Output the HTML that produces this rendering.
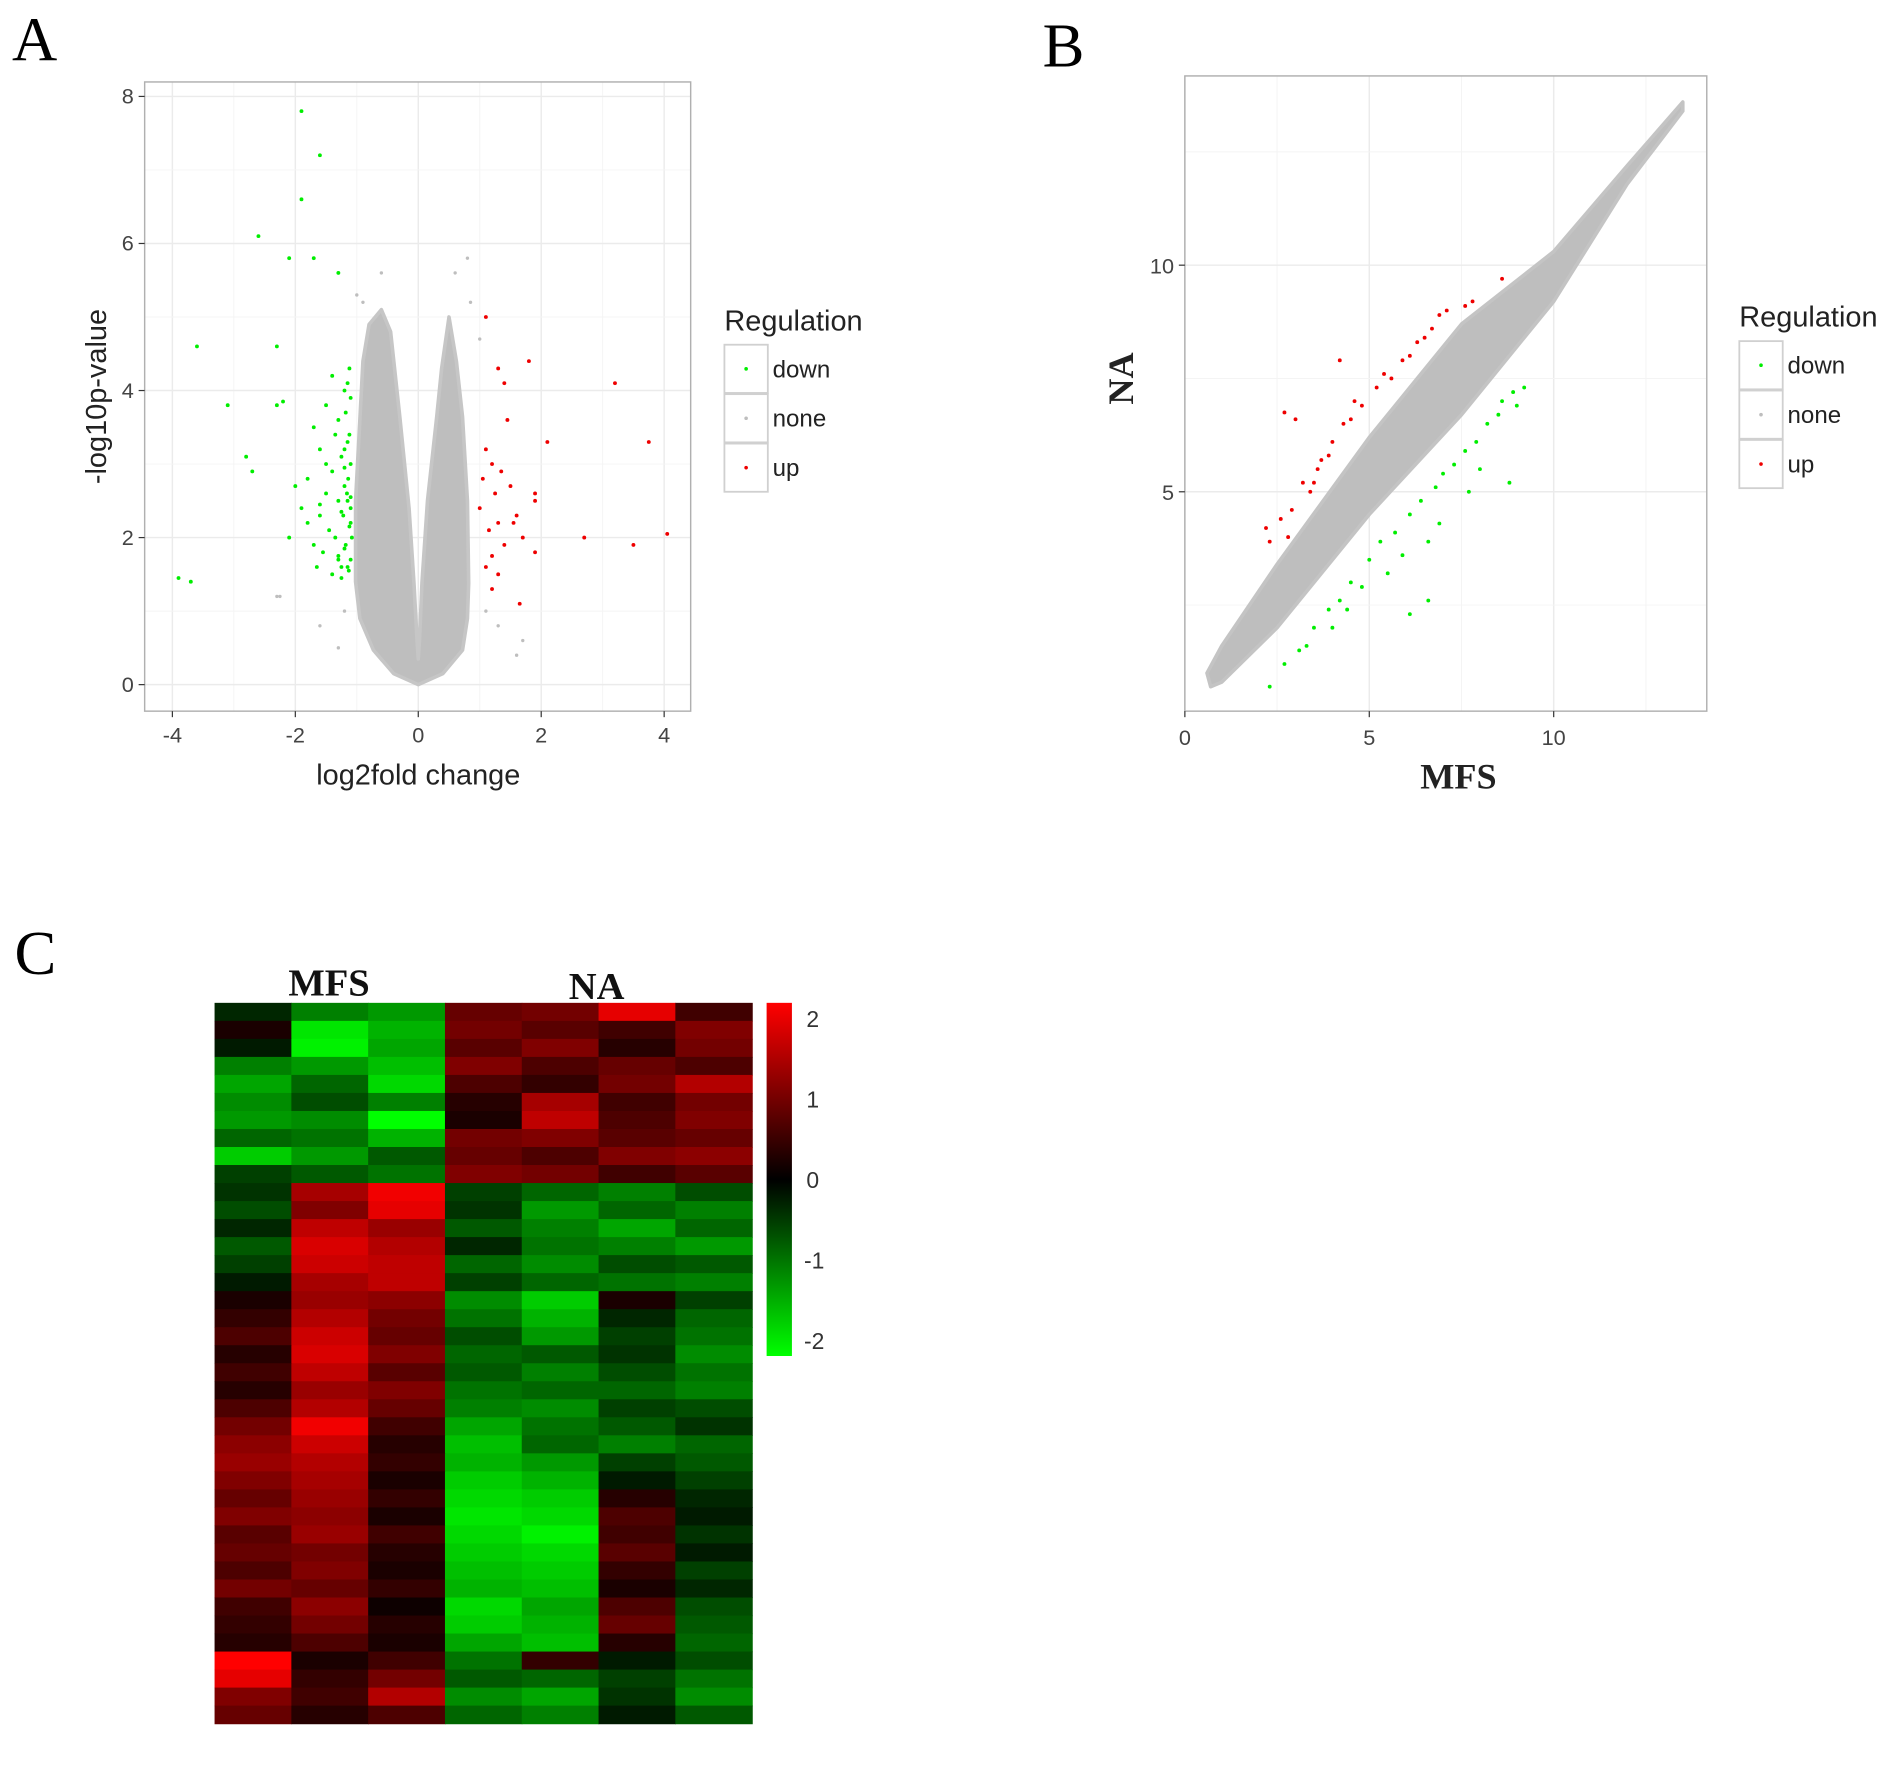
<!DOCTYPE html>
<html><head><meta charset="utf-8">
<style>
html,body{margin:0;padding:0;background:#fff;}
svg{display:block;}
text{font-family:"Liberation Sans",sans-serif;}
.serif{font-family:"Liberation Serif",serif;}
</style></head>
<body>
<svg id="fig" width="1890" height="1788" viewBox="0 0 1568 1483.4" xmlns="http://www.w3.org/2000/svg">
<rect width="1568" height="1483.4" fill="#fff"/>
<text class="serif" x="10" y="50" font-size="52">A</text>
<text class="serif" x="865" y="55" font-size="52">B</text>
<text class="serif" x="12" y="808" font-size="52">C</text>
<g id="pa"></g>
<g id="pb"></g>
<g id="pc"></g>
</svg>
<script>
// ---------- Panel A data ----------
const volcXTicks = [-4,-2,0,2,4];
const volcYTicks = [0,2,4,6,8];
const volcDownX = [-1.9,-1.6,-1.9,-2.6,-2.1,-1.7,-1.3,-3.6,-2.3,-3.1,-2.3,-2.2,-2.8,-2.7,-3.9,-3.7,-1.4,-1.2,-1.5,-1.3,-1.7,-1.15,-1.6,-1.25,-1.4,-1.8,-1.2,-1.5,-1.3,-1.9,-1.25,-1.6,-1.1,-1.45,-1.35,-2.1,-1.7,-1.2,-1.55,-1.3,-1.15,-1.65,-1.4,-1.25,-1.8,-1.1,-1.5,-1.2,-1.35,-2.0,-1.6,-1.3,-1.12,-1.15,-1.1,-1.18,-1.12,-1.2,-1.1,-1.14,-1.16,-1.1,-1.22,-1.12,-1.08,-1.18,-1.1,-1.25,-1.13,-1.15];
const volcDownY = [7.8,7.2,6.6,6.1,5.8,5.8,5.6,4.6,4.6,3.8,3.8,3.85,3.1,2.9,1.45,1.4,4.2,4.0,3.8,3.6,3.5,3.3,3.2,3.1,2.9,2.8,2.7,2.6,2.5,2.4,2.35,2.3,2.2,2.1,2.0,2.0,1.9,1.85,1.8,1.7,1.6,1.6,1.5,1.45,2.2,2.55,3.0,2.95,3.4,2.7,2.45,1.75,4.3,4.1,3.9,3.7,3.4,3.2,3.0,2.8,2.6,2.4,2.3,2.15,2.0,1.9,1.7,1.6,1.55,2.5];
const volcUpX = [1.1,1.8,1.4,3.2,1.3,2.1,3.75,1.2,1.5,1.9,1.3,2.7,4.05,3.5,1.9,1.7,1.1,1.2,1.05,1.25,1.6,1.15,1.35,1.45,1.1,1.3,1.9,1.55,1.2,1.0,1.4,1.65];
const volcUpY = [5.0,4.4,4.1,4.1,4.3,3.3,3.3,3.0,2.7,2.5,2.2,2.0,2.05,1.9,1.8,2.0,1.6,1.3,2.8,2.6,2.3,2.1,2.9,3.6,3.2,1.5,2.6,2.2,1.75,2.4,1.9,1.1];
const volcCloudX = [0,-0.4,-0.73,-0.95,-1.02,-1.02,-0.95,-0.9,-0.8,-0.6,-0.45,-0.3,-0.15,-0.07,-0.02,0,0.02,0.06,0.15,0.3,0.38,0.5,0.62,0.72,0.8,0.82,0.8,0.72,0.4,0];
const volcCloudY = [0,0.15,0.47,0.9,1.4,2.5,3.6,4.4,4.9,5.1,4.8,3.64,2.4,1.38,0.6,0.35,0.6,1.38,2.5,3.64,4.3,5.0,4.4,3.64,2.5,1.38,0.9,0.47,0.15,0];
const volcGrayX = [-2.3,-2.25,-1.0,1.6,0.8,1.7,-0.9,1.0,0.85,-1.6,-1.2,-1.3,1.1,1.3,-0.6,0.6];
const volcGrayY = [1.2,1.2,5.3,0.4,5.8,0.6,5.2,4.7,5.2,0.8,1.0,0.5,1.0,0.8,5.6,5.6];

// ---------- Panel B data ----------
const scatXTicks = [0,5,10];
const scatYTicks = [5,10];
const scatBandX = [0.6,1,2.5,5,7.5,10,12,13.5,13.5,12,10,7.5,5,2.5,1,0.7];
const scatBandY = [1.0,1.6,3.4,6.2,8.7,10.3,12.2,13.6,13.4,11.8,9.2,6.7,4.5,2.0,0.8,0.7];
const scatUpX = [4.2,2.7,3.0,3.5,3.6,3.4,2.2,2.3,2.6,2.8,4.0,4.3,4.5,4.8,5.2,5.6,5.9,6.3,6.7,6.9,7.1,7.6,7.8,8.6,3.9,3.2,4.6,5.4,6.1,6.5,2.9,3.7];
const scatUpY = [7.9,6.75,6.6,5.2,5.5,5.0,4.2,3.9,4.4,4.0,6.1,6.5,6.6,6.9,7.3,7.5,7.9,8.3,8.6,8.9,9.0,9.1,9.2,9.7,5.8,5.2,7.0,7.6,8.0,8.4,4.6,5.7];
const scatDownX = [2.3,2.7,3.1,3.5,3.9,4.2,4.5,5.0,5.3,5.7,6.1,6.4,6.8,7.0,7.3,7.6,7.9,8.2,8.5,8.6,8.9,9.0,9.2,8.8,6.6,6.1,6.6,5.5,4.8,4.0,3.3,7.7,8.0,6.9,5.9,4.4];
const scatDownY = [0.7,1.2,1.5,2.0,2.4,2.6,3.0,3.5,3.9,4.1,4.5,4.8,5.1,5.4,5.6,5.9,6.1,6.5,6.7,7.0,7.2,6.9,7.3,5.2,2.6,2.3,3.9,3.2,2.9,2.0,1.6,5.0,5.5,4.3,3.6,2.4];

// ---------- Panel C data ----------
const heatCols = ["MFS1","MFS2","MFS3","NA1","NA2","NA3","NA4"];
const heatColorTicks = [2,1,0,-1,-2];
const heatValues = [
[-0.3,-1.0,-1.2,0.8,0.9,1.8,0.5],[0.2,-1.8,-1.4,0.9,0.7,0.5,1.0],[-0.2,-1.9,-1.3,0.7,1.0,0.3,0.9],
[-1.0,-1.2,-1.5,1.0,0.6,0.8,0.6],[-1.3,-0.8,-1.7,0.6,0.4,0.9,1.4],[-1.1,-0.6,-1.0,0.3,1.3,0.5,0.9],
[-1.2,-1.1,-2.0,0.2,1.5,0.6,1.0],[-0.8,-0.9,-1.4,0.9,1.0,0.7,0.8],[-1.6,-1.2,-0.7,0.8,0.6,1.0,1.1],
[-0.5,-0.7,-0.9,1.0,0.9,0.5,0.7],[-0.4,1.3,1.9,-0.5,-0.8,-1.0,-0.6],[-0.6,1.0,1.8,-0.4,-1.2,-0.8,-1.0],
[-0.3,1.5,1.2,-0.7,-1.0,-1.3,-0.8],[-0.7,1.7,1.4,-0.3,-0.9,-1.0,-1.2],[-0.5,1.6,1.5,-0.8,-1.1,-0.6,-0.7],
[-0.2,1.3,1.5,-0.5,-0.8,-0.9,-1.0],[0.2,1.2,1.1,-1.1,-1.6,0.2,-0.5],[0.4,1.4,0.9,-0.9,-1.4,-0.3,-0.8],
[0.6,1.6,0.8,-0.6,-1.2,-0.5,-0.9],[0.3,1.7,1.0,-0.8,-0.7,-0.4,-1.1],[0.5,1.5,0.7,-0.7,-1.0,-0.6,-0.9],
[0.3,1.2,1.0,-0.9,-0.8,-0.8,-1.0],[0.6,1.4,0.8,-1.0,-1.1,-0.5,-0.6],[0.9,1.9,0.5,-1.3,-0.9,-0.7,-0.4],
[1.1,1.6,0.3,-1.5,-0.8,-1.0,-0.8],[1.2,1.4,0.4,-1.4,-1.2,-0.5,-0.7],[1.0,1.3,0.2,-1.6,-1.4,-0.2,-0.5],
[0.8,1.2,0.4,-1.7,-1.6,0.3,-0.3],[1.0,1.1,0.2,-1.8,-1.7,0.6,-0.2],[0.7,1.2,0.5,-1.7,-1.9,0.5,-0.4],
[0.8,0.9,0.3,-1.6,-1.7,0.7,-0.2],[0.6,1.0,0.2,-1.5,-1.6,0.4,-0.5],[0.9,0.8,0.4,-1.4,-1.5,0.2,-0.3],
[0.5,1.1,0.1,-1.7,-1.3,0.6,-0.6],[0.4,0.9,0.3,-1.6,-1.4,0.8,-0.7],[0.3,0.6,0.2,-1.3,-1.5,0.3,-0.8],
[2.0,0.2,0.5,-0.9,0.4,-0.2,-0.6],[1.8,0.4,0.9,-0.7,-0.8,-0.5,-0.9],[1.0,0.5,1.4,-1.1,-1.3,-0.4,-1.1],
[0.8,0.3,0.6,-0.8,-1.0,-0.2,-0.7]
];

const NS="http://www.w3.org/2000/svg";
function mk(parent,tag,attrs,txt){const e=document.createElementNS(NS,tag);for(const k in attrs)e.setAttribute(k,attrs[k]);if(txt!==undefined)e.textContent=txt;parent.appendChild(e);return e;}
function lin(d0,d1,r0,r1){return v=>r0+(v-d0)*(r1-r0)/(d1-d0);}

function legend(g,x,y){
  const t=mk(g,'text',{x:x,y:y,'font-size':24,fill:'#222'},'Regulation');
  
  
  const items=[['down','#00ee00'],['none','#bebebe'],['up','#ee0000']];
  items.forEach((it,i)=>{
    const ky=y+12+i*41;
    const r=mk(g,'rect',{x:x,y:ky,width:36,height:40,fill:'#fff',stroke:'#d0d0d0','stroke-width':1.5});
    
    
    mk(g,'circle',{cx:x+18,cy:ky+20,r:1.5,fill:it[1]});
    const lt=mk(g,'text',{x:x+40,y:ky+27,'font-size':20,fill:'#222'},it[0]);
    
    
  });
}

// ---------- Panel A ----------
(function(){
  const g=document.getElementById('pa');
  const L=120,R=573,T=68,B=590;
  const sx=lin(0,4,347,551), sy=lin(0,8,568,80);
  mk(g,'rect',{x:L,y:T,width:R-L,height:B-T,fill:'#fff'});
  for(let v=-4;v<=4;v++){const x=sx(v);mk(g,'line',{x1:x,x2:x,y1:T,y2:B,stroke:v%2?'#f4f4f4':'#ebebeb','stroke-width':v%2?0.8:1.2});}
  for(let v=0;v<=8;v++){const y=sy(v);mk(g,'line',{x1:L,x2:R,y1:y,y2:y,stroke:v%2?'#f4f4f4':'#ebebeb','stroke-width':v%2?0.8:1.2});}
  const cl=mk(g,'polygon',{points:volcCloudX.map((x,i)=>sx(x)+','+sy(volcCloudY[i])).join(' '),fill:'#bebebe',stroke:'#c6c6c6','stroke-width':3,'stroke-linejoin':'round'});
  
  
  volcGrayX.forEach((x,i)=>mk(g,'circle',{cx:sx(x),cy:sy(volcGrayY[i]),r:1.4,fill:'#bebebe'}));
  volcDownX.forEach((x,i)=>{const c=mk(g,'circle',{cx:sx(x),cy:sy(volcDownY[i]),r:1.6,fill:'#00ee00'});
    
    });
  volcUpX.forEach((x,i)=>{const c=mk(g,'circle',{cx:sx(x),cy:sy(volcUpY[i]),r:1.6,fill:'#ee0000'});
    
    });
  mk(g,'rect',{x:L,y:T,width:R-L,height:B-T,fill:'none',stroke:'#b0b0b0','stroke-width':1.2});
  volcXTicks.forEach(v=>{const x=sx(v);mk(g,'line',{x1:x,x2:x,y1:B,y2:B+5,stroke:'#333'});
    const t=mk(g,'text',{x:x,y:B+26,'font-size':18,'text-anchor':'middle',fill:'#444'},String(v));
    
    });
  volcYTicks.forEach(v=>{const y=sy(v);mk(g,'line',{x1:L-5,x2:L,y1:y,y2:y,stroke:'#333'});
    const t=mk(g,'text',{x:L-9,y:y+6,'font-size':18,'text-anchor':'end',fill:'#444'},String(v));
    
    });
  const xt=mk(g,'text',{x:347,y:651,'font-size':24,'text-anchor':'middle',fill:'#222'},'log2fold change');
  
  
  const yt=mk(g,'text',{x:0,y:0,'font-size':24,'text-anchor':'middle',fill:'#222',transform:'translate(88,329) rotate(-90)'},'-log10p-value');
  
  
  legend(g,601,274);
})();

// ---------- Panel B ----------
(function(){
  const g=document.getElementById('pb');
  const L=983,R=1416,T=63,B=590;
  const sx=lin(0,10,983,1289), sy=lin(5,10,408,220);
  mk(g,'rect',{x:L,y:T,width:R-L,height:B-T,fill:'#fff'});
  for(let v=0;v<=12.5;v+=2.5){const x=sx(v);const mj=v%5===0;mk(g,'line',{x1:x,x2:x,y1:T,y2:B,stroke:mj?'#ebebeb':'#f4f4f4','stroke-width':mj?1.2:0.8});}
  for(let v=2.5;v<=12.5;v+=2.5){const y=sy(v);const mj=v%5===0;mk(g,'line',{x1:L,x2:R,y1:y,y2:y,stroke:mj?'#ebebeb':'#f4f4f4','stroke-width':mj?1.2:0.8});}
  const band=mk(g,'polygon',{points:scatBandX.map((x,i)=>sx(x)+','+sy(scatBandY[i])).join(' '),fill:'#bebebe','stroke':'#c4c4c4','stroke-width':3,'stroke-linejoin':'round'});
  
  
  scatUpX.forEach((x,i)=>{const c=mk(g,'circle',{cx:sx(x),cy:sy(scatUpY[i]),r:1.6,fill:'#ee0000'});
    
    });
  scatDownX.forEach((x,i)=>{const c=mk(g,'circle',{cx:sx(x),cy:sy(scatDownY[i]),r:1.6,fill:'#00ee00'});
    
    });
  mk(g,'rect',{x:L,y:T,width:R-L,height:B-T,fill:'none',stroke:'#b0b0b0','stroke-width':1.2});
  scatXTicks.forEach(v=>{const x=sx(v);mk(g,'line',{x1:x,x2:x,y1:B,y2:B+5,stroke:'#333'});
    const t=mk(g,'text',{x:x,y:B+28,'font-size':18,'text-anchor':'middle',fill:'#444'},String(v));
    
    });
  scatYTicks.forEach(v=>{const y=sy(v);mk(g,'line',{x1:L-5,x2:L,y1:y,y2:y,stroke:'#333'});
    const t=mk(g,'text',{x:L-9,y:y+7,'font-size':18,'text-anchor':'end',fill:'#444'},String(v));
    
    });
  const xt=mk(g,'text',{x:1210,y:654,'font-size':30,'font-weight':'bold','text-anchor':'middle',fill:'#222',class:'serif'},'MFS');
  
  
  const yt=mk(g,'text',{x:0,y:0,'font-size':30,'font-weight':'bold','text-anchor':'middle',fill:'#222',class:'serif',transform:'translate(940,314) rotate(-90)'},'NA');
  
  
  legend(g,1443,271);
})();

// ---------- Panel C ----------
(function(){
  const g=document.getElementById('pc');
  const L=178,R=624,T=832,B=1430;
  const cw=(R-L)/heatCols.length, rh=(B-T)/heatValues.length;
  function col(v){const t=Math.max(-1,Math.min(1,v/2));
    return t>=0?`rgb(${Math.round(255*t)},0,0)`:`rgb(0,${Math.round(-255*t)},0)`;}
  heatValues.forEach((row,ri)=>row.forEach((v,ci)=>{
    const r=mk(g,'rect',{x:L+ci*cw,y:T+ri*rh,width:cw+0.5,height:rh+0.5,fill:col(v)});
    
    
  }));
  const g1=mk(g,'text',{x:273,y:826,'font-size':32,'font-weight':'bold','text-anchor':'middle',fill:'#111',class:'serif'},'MFS');
  
  
  const g2=mk(g,'text',{x:495,y:829,'font-size':32,'font-weight':'bold','text-anchor':'middle',fill:'#111',class:'serif'},'NA');
  
  
  const cy=lin(2,-2,845,1112);
  const defs=mk(g,'defs',{});
  const lg=mk(defs,'linearGradient',{id:'cb',x1:0,y1:0,x2:0,y2:1});
  mk(lg,'stop',{offset:'0',  'stop-color':'#ff0000'});
  mk(lg,'stop',{offset:'0.5','stop-color':'#000000'});
  mk(lg,'stop',{offset:'1',  'stop-color':'#00ff00'});
  const cb=mk(g,'rect',{x:636,y:832,width:21,height:293,fill:'url(#cb)'});
  
  
  heatColorTicks.forEach(v=>{
    const t=mk(g,'text',{x:v<0?667:669,y:cy(v)+7,'font-size':19,fill:'#333'},String(v));
    
    
  });
})();
</script>
</body></html>
